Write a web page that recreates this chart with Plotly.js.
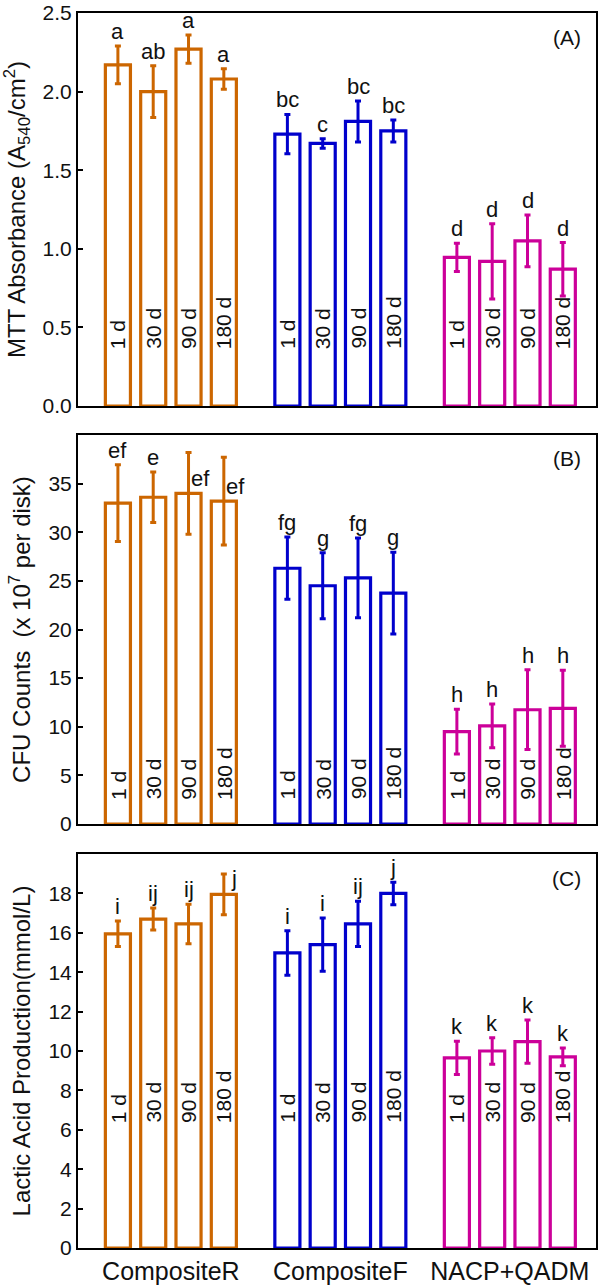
<!DOCTYPE html>
<html>
<head>
<meta charset="utf-8">
<script src="https://cdn.plot.ly/plotly-3.0.1.min.js"></script>
<style>html,body{margin:0;padding:0;background:#fff;}#chart{width:600px;height:1285px;}</style>
</head>
<body>
<div id="chart"></div>
<script>
// ---------- data ----------
const groups = ["CompositeR", "CompositeF", "NACP+QADM"];
const days = ["1 d", "30 d", "90 d", "180 d"];

// Panel A: MTT absorbance
const mttR = [2.17, 2.00, 2.27, 2.08];
const mttRErr = [0.12, 0.165, 0.09, 0.065];
const mttF = [1.73, 1.67, 1.81, 1.75];
const mttFErr = [0.125, 0.03, 0.13, 0.07];
const mttN = [0.945, 0.92, 1.05, 0.87];
const mttNErr = [0.09, 0.24, 0.165, 0.17];
const mttLetR = ["a", "ab", "a", "a"];
const mttLetF = ["bc", "c", "bc", "bc"];
const mttLetN = ["d", "d", "d", "d"];

// Panel B: CFU counts
const cfuR = [33.0, 33.6, 34.0, 33.2];
const cfuRErr = [3.95, 2.6, 4.2, 4.5];
const cfuF = [26.3, 24.5, 25.3, 23.75];
const cfuFErr = [3.2, 3.4, 4.1, 4.2];
const cfuN = [9.5, 10.1, 11.75, 11.9];
const cfuNErr = [2.3, 2.25, 4.1, 3.9];
const cfuLetR = ["ef", "e", "ef", "ef"];
const cfuLetF = ["fg", "g", "fg", "g"];
const cfuLetN = ["h", "h", "h", "h"];

// Panel C: lactic acid
const lacR = [15.95, 16.7, 16.45, 17.95];
const lacRErr = [0.65, 0.56, 1.0, 1.03];
const lacF = [14.98, 15.4, 16.45, 18.0];
const lacFErr = [1.13, 1.35, 1.15, 0.57];
const lacN = [9.65, 10.0, 10.48, 9.7];
const lacNErr = [0.84, 0.67, 1.1, 0.45];
const lacLetR = ["i", "ij", "ij", "j"];
const lacLetF = ["i", "i", "ij", "j"];
const lacLetN = ["k", "k", "k", "k"];

const panelLabels = ["(A)", "(B)", "(C)"];

// ---------- styling / layout ----------
const colors = ["#CC6600", "#0000CC", "#CC0099"];
const FONT = "Arial, 'Liberation Sans', sans-serif";
const groupStep = 4.8;
const pos = (g, i) => g * groupStep + i;

const panels = [
  {vals: [mttR, mttF, mttN], errs: [mttRErr, mttFErr, mttNErr], lets: [mttLetR, mttLetF, mttLetN],
   range: [0, 2.5], tickvals: [0, 0.5, 1.0, 1.5, 2.0, 2.5], fmt: ".1f", dayY: 0.35,
   title: "MTT Absorbance (A<sub>540</sub>/cm<sup>2</sup>)", domain: [0.6818, 1]},
  {vals: [cfuR, cfuF, cfuN], errs: [cfuRErr, cfuFErr, cfuNErr], lets: [cfuLetR, cfuLetF, cfuLetN],
   range: [0, 40], tickvals: [0, 5, 10, 15, 20, 25, 30, 35], fmt: "d", dayY: 2.3,
   title: "CFU Counts  (x 10<sup>7</sup> per disk)", domain: [0.3433, 0.6583]},
  {vals: [lacR, lacF, lacN], errs: [lacRErr, lacFErr, lacNErr], lets: [lacLetR, lacLetF, lacLetN],
   range: [0, 20], tickvals: [0, 2, 4, 6, 8, 10, 12, 14, 16, 18], fmt: "d", dayY: 6.25,
   title: "Lactic Acid Production(mmol/L)", domain: [0, 0.3190]}
];

// special letter placements (panel-group-index): shifts in px
const letterShift = {
  "1-0-2": {xshift: 12, yshift: -26, yanchor: "middle"},
  "1-0-3": {xshift: 12, yshift: -29, yanchor: "middle"},
  "2-0-3": {xshift: 10, yshift: -4, yanchor: "middle"}
};

const traces = [];
const annotations = [];
const layout = {
  width: 600, height: 1285,
  margin: {l: 78, r: 4, t: 13, b: 37},
  paper_bgcolor: "#fff", plot_bgcolor: "#fff",
  showlegend: false, barmode: "overlay",
  font: {family: FONT, color: "#111", size: 21}
};

const xRange = [-1.13, 13.54];

panels.forEach((p, k) => {
  const xa = k === 0 ? "x" : "x" + (k + 1);
  const ya = k === 0 ? "y" : "y" + (k + 1);
  const xKey = k === 0 ? "xaxis" : "xaxis" + (k + 1);
  const yKey = k === 0 ? "yaxis" : "yaxis" + (k + 1);
  const xa_def = {
    domain: [0, 1], anchor: ya, range: xRange, fixedrange: true,
    showline: true, mirror: true, linecolor: "#000", linewidth: 2,
    showgrid: false, zeroline: false, ticks: "",
    showticklabels: k === 2
  };
  if (k === 2) {
    xa_def.tickvals = groups.map((g, gi) => pos(gi, 1.5));
    xa_def.ticktext = groups;
    xa_def.tickfont = {family: FONT, size: 25, color: "#111"};
  }
  layout[xKey] = xa_def;
  layout[yKey] = {
    domain: p.domain, anchor: xa, range: p.range, fixedrange: true,
    tickvals: p.tickvals, tickformat: p.fmt, ticklabeloverflow: "allow",
    ticks: "inside", ticklen: 5, tickwidth: 2, tickcolor: "#000",
    showline: true, mirror: true, linecolor: "#000", linewidth: 2,
    showgrid: false, zeroline: false,
    tickfont: {family: FONT, size: 21, color: "#111"},
    title: {text: p.title, font: {family: FONT, size: 24, color: "#111"}, standoff: 11}
  };
  groups.forEach((g, gi) => {
    const xs = days.map((d, i) => pos(gi, i));
    traces.push({
      type: "bar", name: g, x: xs, y: p.vals[gi], xaxis: xa, yaxis: ya,
      width: 0.71,
      marker: {color: "rgba(255,255,255,0)", line: {color: colors[gi], width: 3.2}},
      error_y: {type: "data", array: p.errs[gi], visible: true, color: colors[gi], thickness: 3, width: 3},
      hoverinfo: "skip"
    });
    days.forEach((d, i) => {
      // day label inside bar
      annotations.push({
        xref: xa, yref: ya, x: pos(gi, i), y: p.dayY, text: d, textangle: -90,
        showarrow: false, xanchor: "center", yanchor: "bottom",
        font: {family: FONT, size: 21, color: "#111"}
      });
      // significance letter
      const sh = letterShift[k + "-" + gi + "-" + i] || {};
      annotations.push({
        xref: xa, yref: ya, x: pos(gi, i), y: p.vals[gi][i] + p.errs[gi][i],
        text: p.lets[gi][i], showarrow: false, xanchor: "center",
        yanchor: sh.yanchor || "bottom", xshift: sh.xshift || 0, yshift: sh.yshift || 0,
        font: {family: FONT, size: 22, color: "#111"}
      });
    });
  });
  annotations.push({
    xref: xa + " domain", yref: ya + " domain", x: 1, y: 1, text: panelLabels[k],
    showarrow: false, xanchor: "right", yanchor: "middle", xshift: -13, yshift: -24,
    font: {family: FONT, size: 21, color: "#111"}
  });
});

layout.annotations = annotations;
Plotly.newPlot("chart", traces, layout, {staticPlot: true, displayModeBar: false});
</script>
</body>
</html>
